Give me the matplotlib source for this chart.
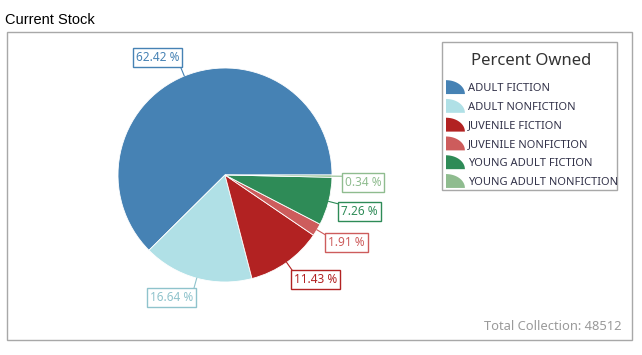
import numpy as np
import matplotlib.pyplot as plt
from matplotlib.patches import Polygon, Rectangle
from matplotlib.legend_handler import HandlerPatch

# Daten
categories = ['ADULT FICTION', 'ADULT NONFICTION', 'JUVENILE FICTION',
              'JUVENILE NONFICTION', 'YOUNG ADULT FICTION', 'YOUNG ADULT NONFICTION']
percents = [62.42, 16.64, 11.43, 1.91, 7.26, 0.34]
colors = ['#4682B4', '#B0E0E6', '#B22222', '#CD5C5C', '#2E8B57', '#8FBC8F']
total = 48512

W, H = 642, 355


def py(y):
    # Pixel-y (von oben) -> Datenkoordinate
    return H - y


class QuarterHandler(HandlerPatch):
    # Viertelkreis als Legendensymbol
    def create_artists(self, legend, orig_handle, xdescent, ydescent,
                       width, height, fontsize, trans):
        h = 10.0
        x0, y0 = -xdescent, -ydescent - (h - height) / 2
        t = np.linspace(0, np.pi / 2, 30)
        pts = [(x0, y0)] + [(x0 + width * np.cos(a), y0 + h * np.sin(a)) for a in t]
        p = Polygon(pts, closed=True, facecolor=orig_handle.get_facecolor(),
                    edgecolor='none', transform=trans)
        return [p]


fig = plt.figure(figsize=(W / 100, H / 100), dpi=100)
ax = fig.add_axes([0, 0, 1, 1])

cx, cy, r = 225, py(175), 107
wedges, _ = ax.pie(percents, colors=colors, startangle=0, counterclock=True,
                   center=(cx, cy), radius=r,
                   wedgeprops=dict(edgecolor='white', linewidth=0.6))

ax.set_xlim(0, W)
ax.set_ylim(0, H)
ax.set_aspect('equal')
ax.axis('off')

# Beschriftungen mit Linien
for w, pct, col in zip(wedges, percents, colors):
    ang = np.deg2rad((w.theta1 + w.theta2) / 2)
    ex, ey = cx + r * np.cos(ang), cy + r * np.sin(ang)
    lx, ly = cx + 1.12 * r * np.cos(ang), cy + 1.12 * r * np.sin(ang)
    ha = 'left' if np.cos(ang) > 0 else 'right'
    va = 'bottom' if np.sin(ang) > 0 else 'top'
    tcol = '#8fc3cc' if col == '#B0E0E6' else col
    ax.plot([ex, lx], [ey, ly], color=tcol, lw=0.8)
    ax.text(lx, ly, f'{pct:.2f} %', ha=ha, va=va, fontsize=8.5, color=tcol,
            family='Noto Sans',
            bbox=dict(boxstyle='square,pad=0.25', fc='white', ec=tcol, lw=1))

# Rahmen und Titel
ax.add_patch(Rectangle((7, py(340)), 625, 308, fill=False, ec='#a8a8a8', lw=1))
ax.text(5, py(20), 'Current Stock', fontsize=10.5, family='Liberation Sans',
        va='center', ha='left', color='black')
ax.text(621, py(327), f'Total Collection: {total}', fontsize=9.3, color='#9a9a9a',
        family='Noto Sans', ha='right', va='center')

# Legende: Rahmen und Titel separat
ax.add_patch(Rectangle((442, py(190)), 175, 148, fill=False, ec='#a8a8a8', lw=1))
ax.text(531, py(61), 'Percent Owned', fontsize=12, color='#333333',
        family='Noto Sans', ha='center', va='center')

leg = ax.legend(wedges, categories, loc='upper left',
                bbox_to_anchor=(446, py(83)), bbox_transform=ax.transData,
                borderaxespad=0, borderpad=0,
                handler_map={type(wedges[0]): QuarterHandler()},
                handlelength=1.7, handletextpad=0.3, labelspacing=0.7,
                frameon=False, prop={'family': 'Noto Sans', 'size': 8})
for t in leg.get_texts():
    t.set_color('#33334a')

plt.savefig('out.png', dpi=100)
